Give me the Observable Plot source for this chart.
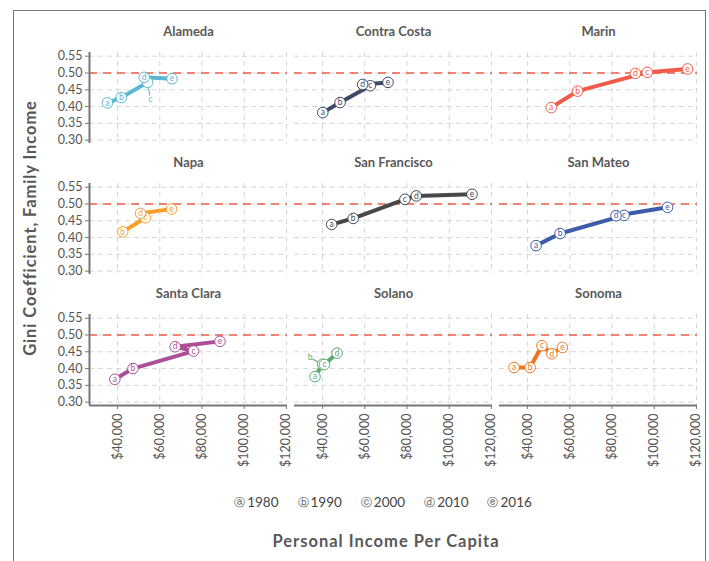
<!DOCTYPE html>
<html>
<head>
<meta charset="utf-8">
<script src="https://cdn.jsdelivr.net/npm/d3@7"></script>
<script src="https://cdn.jsdelivr.net/npm/@observablehq/plot@0.6"></script>
<style>
  body { margin: 0; background: #fff; font-family: Lato, "Open Sans", sans-serif; }
  #page { position: relative; width: 709px; height: 561px; overflow: hidden; background: #fff; }
  #frame { position: absolute; left: 13px; top: 10px; width: 691px; height: 620px; border: 1.5px solid #777; }
  #chart { position: absolute; left: 0; top: 0; }
  #legend { position: absolute; top: 494px; left: 0; width: 766px; display: flex; justify-content: center; gap: 19px; font-size: 13.5px; color: #444; }
  #legend .item { display: flex; align-items: center; gap: 2px; }
  #legend .sym { font-size: 11px; font-family: "DejaVu Sans", sans-serif; color: #555; }
  #xtitle { position: absolute; top: 531px; left: 0; width: 772px; text-align: center; font-size: 16.5px; font-weight: bold; color: #585858; letter-spacing: 1px; }
  #ytitle { position: absolute; left: 30px; top: 228px; transform-origin: 0 0; transform: rotate(-90deg) translate(-50%, -50%); white-space: nowrap; font-size: 16.5px; font-weight: bold; color: #585858; letter-spacing: 0.9px; }
</style>
</head>
<body>
<div id="page">
  <div id="frame"></div>
  <div id="chart"></div>
  <div id="legend"></div>
  <div id="xtitle">Personal Income Per Capita</div>
  <div id="ytitle">Gini Coefficient, Family Income</div>
</div>
<script>
// ---- data ----
const counties = ["Alameda", "Contra Costa", "Marin", "Napa", "San Francisco", "San Mateo", "Santa Clara", "Solano", "Sonoma"];
const countyColors = ["#5bb5d5", "#3e4a66", "#f05b4b", "#f6a02a", "#484848", "#3c5ba8", "#ad4f98", "#5bab6e", "#ef7520"];
const years = [1980, 1990, 2000, 2010, 2016];
const yearCodes = ["a", "b", "c", "d", "e"];
const xTicks = [40000, 60000, 80000, 100000, 120000];
const yTicks = [0.30, 0.35, 0.40, 0.45, 0.50, 0.55];
const xDomain = [26700, 120500];
const yDomain = [0.29, 0.561];
const giniThreshold = 0.5;

const alamedaIncome      = [35200, 41800, 54200, 52600, 65800];
const alamedaGini        = [0.411, 0.427, 0.472, 0.487, 0.483];
const contraCostaIncome  = [40100, 48300, 62600, 59000, 71000];
const contraCostaGini    = [0.382, 0.412, 0.462, 0.466, 0.472];
const marinIncome        = [51200, 63700, 96700, 91100, 115800];
const marinGini          = [0.397, 0.446, 0.502, 0.499, 0.512];
const napaIncome         = [null, 42450, 53200, 50900, 65600];
const napaGini           = [null, 0.417, 0.459, 0.472, 0.485];
const sanFranciscoIncome = [44300, 54500, 79000, 84400, 110800];
const sanFranciscoGini   = [0.439, 0.457, 0.514, 0.524, 0.529];
const sanMateoIncome     = [44000, 55400, 85700, 81900, 106300];
const sanMateoGini       = [0.376, 0.412, 0.466, 0.465, 0.490];
const santaClaraIncome   = [38700, 47300, 76000, 67300, 88500];
const santaClaraGini     = [0.368, 0.400, 0.452, 0.465, 0.481];
const solanoIncome       = [36400, 40000, 40900, 46850, null];
const solanoGini         = [0.376, 0.413, 0.412, 0.446, null];
const sonomaIncome       = [33600, 41200, 46800, 51500, 56500];
const sonomaGini         = [0.403, 0.403, 0.468, 0.444, 0.463];

const incomeSeries = [alamedaIncome, contraCostaIncome, marinIncome, napaIncome, sanFranciscoIncome, sanMateoIncome, santaClaraIncome, solanoIncome, sonomaIncome];
const giniSeries   = [alamedaGini, contraCostaGini, marinGini, napaGini, sanFranciscoGini, sanMateoGini, santaClaraGini, solanoGini, sonomaGini];

// labels that were pushed away from their points in the original
const repelled = [["Alameda", "c"], ["Solano", "b"]];

// ---- build table ----
const points = [];
counties.forEach((county, i) => {
  incomeSeries[i].forEach((inc, j) => {
    if (inc == null) return;
    points.push({county, col: i % 3, row: Math.floor(i / 3), year: years[j], code: yearCodes[j], income: inc, gini: giniSeries[i][j]});
  });
});
const titles = counties.map((county, i) => ({county, col: i % 3, row: Math.floor(i / 3)}));
const isRep = (c, k) => d => d.county === c && d.code === k;
const notRep = d => !repelled.some(([c, k]) => d.county === c && d.code === k);

const leader = {draw(ctx, l) { ctx.moveTo(0, 0); ctx.lineTo(0, -l); }};
const common = {fx: "col", fy: "row", x: "income", y: "gini"};

const chart = Plot.plot({
  width: 709,
  height: 500,
  marginLeft: 88,
  marginRight: 12,
  marginTop: 51,
  marginBottom: 95,
  style: {fontFamily: "Lato, 'Open Sans', sans-serif", fontSize: "12px", color: "#555", background: "transparent"},
  x: {domain: xDomain},
  y: {domain: yDomain},
  fx: {axis: null, paddingInner: 0.0365, paddingOuter: 0},
  fy: {axis: null, paddingInner: 0.308, paddingOuter: 0},
  color: {domain: counties, range: countyColors},
  marks: [
    Plot.gridX({ticks: xTicks, stroke: "#d6d6d6", strokeOpacity: 1, strokeDasharray: "5,4"}),
    Plot.gridY({ticks: yTicks, stroke: "#d6d6d6", strokeOpacity: 1, strokeDasharray: "5,4"}),
    Plot.ruleY([giniThreshold], {stroke: "#ec5e4f", strokeWidth: 1.4, strokeDasharray: "8,6"}),
    Plot.ruleX([xDomain[0]], {stroke: "#777", strokeWidth: 2, facetAnchor: "left"}),
    Plot.ruleY([yDomain[0]], {stroke: "#777", strokeWidth: 2, facetAnchor: "bottom"}),
    Plot.axisY({ticks: yTicks, tickFormat: d3.format(".2f"), tickSize: 4, tickPadding: 3, stroke: "#777", fill: "#555", label: null, fontSize: 12.5}),
    Plot.axisX({ticks: xTicks, tickFormat: d3.format("$,"), tickRotate: -90, tickSize: 4, tickPadding: 4, stroke: "#777", fill: "#555", label: null, fontSize: 12.5}),
    Plot.line(points, {...common, z: "county", stroke: "county", strokeWidth: 4}),
    Plot.vector(points, {...common, filter: isRep("Alameda", "c"), stroke: "county", strokeWidth: 1, anchor: "start", length: 13, rotate: 170, shape: leader}),
    Plot.vector(points, {...common, filter: isRep("Solano", "b"), stroke: "county", strokeWidth: 1, anchor: "start", length: 11, rotate: 297, shape: leader}),
    Plot.dot(points, {...common, r: 5.3, fill: "white", stroke: "county", strokeWidth: 1}),
    Plot.text(points, {...common, filter: notRep, text: "code", fill: "county", fontSize: 8.5}),
    Plot.text(points, {...common, filter: isRep("Alameda", "c"), text: "code", fill: "county", fontSize: 8.5, dx: 3, dy: 17}),
    Plot.text(points, {...common, filter: isRep("Solano", "b"), text: "code", fill: "county", fontSize: 8.5, dx: -12.5, dy: -6.5}),
    Plot.text(titles, {fx: "col", fy: "row", text: "county", frameAnchor: "top", lineAnchor: "middle", dy: -21, fontSize: 13, fontWeight: "bold", fill: "#595959"})
  ]
});
document.getElementById("chart").appendChild(chart);

// legend
const legend = document.getElementById("legend");
years.forEach((yr, i) => {
  const item = document.createElement("div");
  item.className = "item";
  const sym = document.createElement("span");
  sym.className = "sym";
  sym.textContent = String.fromCodePoint(0x24D0 + yearCodes[i].charCodeAt(0) - 97);
  const lab = document.createElement("span");
  lab.textContent = yr;
  item.appendChild(sym);
  item.appendChild(lab);
  legend.appendChild(item);
});
</script>
</body>
</html>
